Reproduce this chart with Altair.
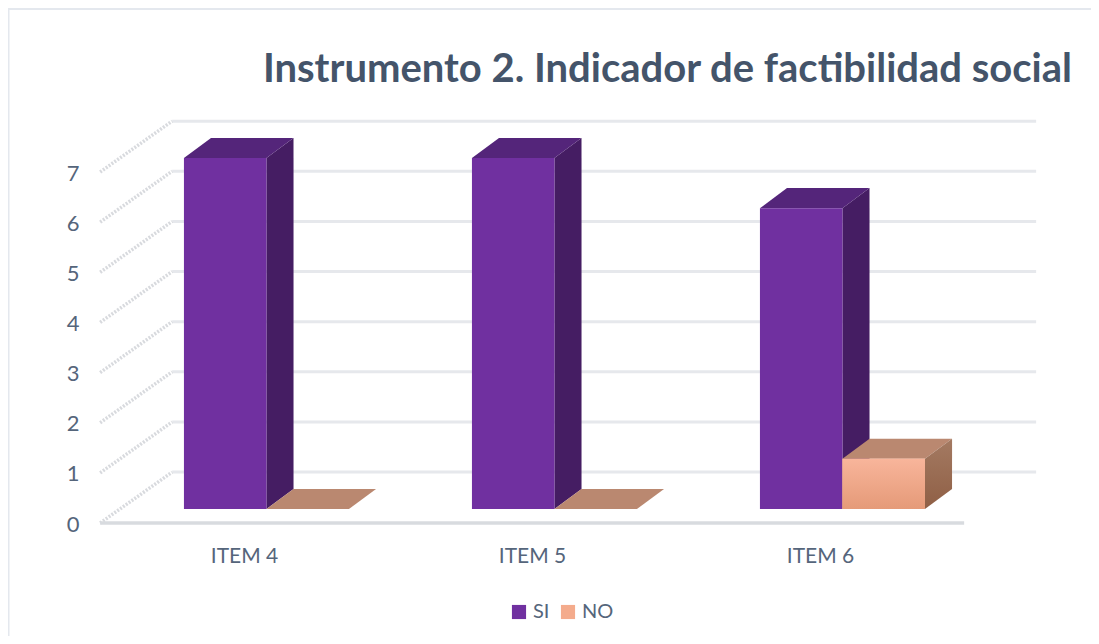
import json
import altair as alt
import pandas as pd

categories = ["ITEM 4", "ITEM 5", "ITEM 6"]
si_values = [7, 7, 6]
no_values = [0, 0, 1]
y_ticks = [0, 1, 2, 3, 4, 5, 6, 7]
series_names = ["SI", "NO"]
TITLE = "Instrumento 2. Indicador de factibilidad social"

W, H = 1083, 628
X_UNIT = 288.0   # px per category
Y_UNIT = 50.14   # px per value unit
XD = [(8 - 245) / X_UNIT, (8 + W - 245) / X_UNIT]
YD = [-(8 + H - 523) / Y_UNIT, (523 - 8) / Y_UNIT]

BASE = 0.279      # bars stand this far behind the front floor edge
BAR_LEFT = -0.212
BAR_W = 0.2865
DX, DY = 0.094, 0.40   # bar depth
WALL_X0, WALL_X1 = -0.503, 2.497
FLOOR_DX, FLOOR_DY = 0.25, 1.015

TEXT = "#44546A"
LABEL = "#55657b"
FONT = "Lato"

x_s = alt.Scale(domain=XD, nice=False, zero=False)
y_s = alt.Scale(domain=YD, nice=False, zero=False)
label_expr = f"{json.dumps(categories)}[datum.value]"
AX_X = alt.Axis(values=[0, 1, 2], labelExpr=label_expr, title=None, grid=False, domain=False, ticks=False,
                orient="bottom", offset=-(H + 8 - 545), labelFontSize=21, labelFont=FONT, labelColor=LABEL,
                labelBaseline="top", labelPadding=0, labelFlush=False, labelOverlap=False, labelOffset=-1)
AX_Y = alt.Axis(values=y_ticks, format="d", title=None, grid=False, domain=False, ticks=False,
                orient="left", offset=-(79 - 8), labelFontSize=22, labelFont=FONT, labelColor=LABEL,
                labelPadding=0, labelFlush=False, labelOverlap=False, labelOffset=1)


def fx(name="x"):
    return alt.X(f"{name}:Q", scale=x_s, axis=AX_X)


def fy(name="y"):
    return alt.Y(f"{name}:Q", scale=y_s, axis=AX_Y)


def boxes():
    out = []
    for s, vals, off in (("SI", si_values, 0.0), ("NO", no_values, BAR_W)):
        for i, v in enumerate(vals):
            out.append(dict(series=s, k=f"{s}{i}", v=v,
                            l=i + BAR_LEFT + off, r=i + BAR_LEFT + off + BAR_W,
                            b=BASE, t=BASE + v))
    return out


def top_pts(s):
    rows = []
    for b in boxes():
        if b["series"] != s:
            continue
        rows += [
            dict(k=b["k"], x=b["l"], y=b["t"], y2=b["t"]),
            dict(k=b["k"], x=b["l"] + DX, y=b["t"], y2=b["t"] + DY),
            dict(k=b["k"], x=b["r"], y=b["t"], y2=b["t"] + DY),
            dict(k=b["k"], x=b["r"] + DX, y=b["t"] + DY, y2=b["t"] + DY),
        ]
    return pd.DataFrame(rows)


def side_pts(s):
    rows = []
    for b in boxes():
        if b["series"] != s or b["v"] == 0:
            continue
        rows += [
            dict(k=b["k"], x=b["r"], y=b["t"], y2=b["b"]),
            dict(k=b["k"], x=b["r"] + DX, y=b["t"] + DY, y2=b["b"] + DY),
        ]
    return pd.DataFrame(rows)


def area(df, color):
    return alt.Chart(df).mark_area(color=color, opacity=1, interpolate="linear").encode(
        x=fx(), y=fy(), y2="y2:Q", detail="k:N")


def grad(c0, c1, x1=0, x2=0, y1=0, y2=1):
    return alt.Gradient(gradient="linear", stops=[alt.GradientStop(color=c0, offset=0),
                                                   alt.GradientStop(color=c1, offset=1)],
                        x1=x1, x2=x2, y1=y1, y2=y2)


# frame
frame_top = alt.Chart(pd.DataFrame({"a": [XD[0]], "b": [XD[1]], "y": [YD[1] - 0.01]})).mark_rule(
    color="#e4e8ee", strokeWidth=3).encode(x=fx("a"), x2="b:Q", y=fy())
frame_left = alt.Chart(pd.DataFrame({"x": [XD[0]], "a": [YD[0]], "b": [YD[1]]})).mark_rule(
    color="#e4e8ee", strokeWidth=3).encode(x=fx(), y=fy("a"), y2="b:Q")

# walls
grid_df = pd.DataFrame([dict(a=WALL_X0 + FLOOR_DX, b=WALL_X1 + FLOOR_DX, y=v + FLOOR_DY) for v in y_ticks])
grid = alt.Chart(grid_df).mark_rule(color="#e6e8ec", strokeWidth=3).encode(x=fx("a"), x2="b:Q", y=fy())
wall_rows = []
for v in y_ticks:
    wall_rows += [dict(v=v, x=WALL_X0, y=v), dict(v=v, x=WALL_X0 + FLOOR_DX, y=v + FLOOR_DY)]
wall = alt.Chart(pd.DataFrame(wall_rows)).mark_line(
    color="#d8dade", strokeWidth=3.5, strokeDash=[2, 1.5]).encode(x=fx(), y=fy(), detail="v:N")
floor = alt.Chart(pd.DataFrame({"a": [WALL_X0], "b": [WALL_X1], "y": [0]})).mark_rule(
    color="#d8dbdf", strokeWidth=3.5).encode(x=fx("a"), x2="b:Q", y=fy())

# bars
bar_df = pd.DataFrame(boxes())
fronts = alt.Chart(bar_df[bar_df.v > 0]).mark_rect().encode(
    x=fx("l"), x2="r:Q", y=fy("t"), y2="b:Q",
    color=alt.Color("series:N",
                    scale=alt.Scale(domain=series_names, range=["#7030A0", "#F4AB8C"]),
                    legend=alt.Legend(orient="none", legendX=501, legendY=594, direction="horizontal",
                                      title=None, symbolType="square", symbolSize=200, symbolStrokeWidth=0,
                                      symbolOpacity=1,
                                      labelFont=FONT, labelFontSize=20, labelColor=LABEL, columnPadding=8,
                                      labelOffset=4)),
)
no_df = bar_df[(bar_df.series == "NO") & (bar_df.v > 0)]
no_front = alt.Chart(no_df).mark_rect(
    fill=grad("#F8B59B", "#E59A78", x1=0, x2=0, y1=0, y2=1)).encode(
    x=fx("l"), x2="r:Q", y=fy("t"), y2="b:Q")

layers = [
    frame_top, frame_left, grid, wall, floor,
    area(side_pts("SI"), "#451D63"), area(top_pts("SI"), "#54257A"),
    area(top_pts("NO"), "#BA8870"),
    alt.Chart(side_pts("NO")).mark_area(
        fill=grad("#A47A62", "#8F5F45"), interpolate="linear").encode(x=fx(), y=fy(), y2="y2:Q", detail="k:N"),
    fronts, no_front,
]

chart = alt.layer(*layers).resolve_scale(x="shared", y="shared").properties(
    width=W, height=H, padding=0,
    autosize=alt.AutoSizeParams(type="none"),
    title=alt.TitleParams(TITLE, anchor="end", frame="group", orient="top", offset=-123,
                          dx=-19, font=FONT, fontSize=40, fontWeight="bold", color=TEXT, baseline="bottom"),
).configure_view(stroke=None)

chart.save("out.html", embed_options={"renderer": "svg", "actions": False})
